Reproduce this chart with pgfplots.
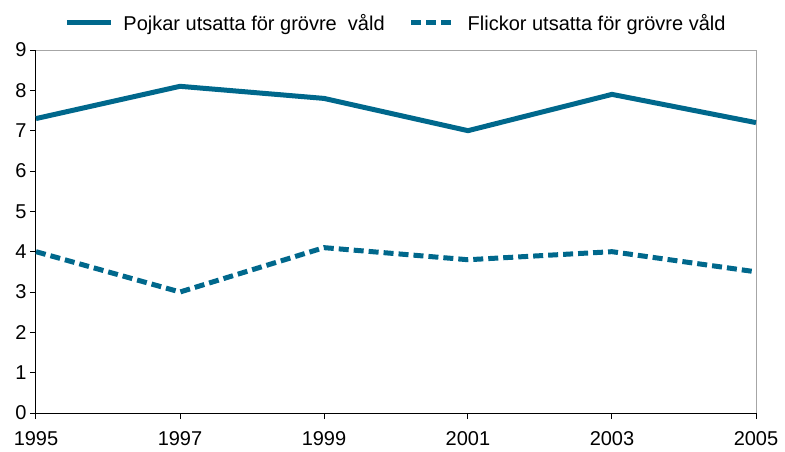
\documentclass[border=0pt]{standalone}
\usepackage{pgfplots}
\pgfplotsset{compat=1.18}
\usepackage{fontspec}
\setmainfont{Liberation Sans}
\definecolor{teal}{RGB}{0,104,140}
\begin{document}
\begin{tikzpicture}
\path[use as bounding box] (-36pt,-38pt) rectangle (749pt,413pt);
\begin{axis}[
  at={(0,0)}, anchor=south west,
  scale only axis, width=720pt, height=363pt,
  xmin=1995, xmax=2005, ymin=0, ymax=9,
  xtick={1995,1997,...,2005}, ytick={0,1,...,9},
  xticklabel style={/pgf/number format/1000 sep={}},
  /pgf/number format/assume math mode=true,
  tick label style={font=\fontsize{20}{24}\selectfont},
  xticklabel style={yshift=-9pt},
  tick align=outside, tick pos=left,
  major tick length=6pt,
  tick style={black, line width=1pt},
  axis line style={draw=none},
  clip=false,
  legend style={draw=none, at={(0.5,1)}, anchor=south, yshift=16pt,
    font=\fontsize{20}{24}\selectfont, column sep=8pt, inner sep=0pt,
    /tikz/every even column/.append style={column sep=22pt}},
  legend columns=2,
  legend image code/.code={\draw[#1] (0pt,0pt) -- (44pt,0pt);},
]
\draw[gray!70, line width=1pt] (axis cs:1995,9) -- (axis cs:2005,9) -- (axis cs:2005,0);
\draw[black, line width=1pt] (axis cs:1995,9) -- (axis cs:1995,0) -- (axis cs:2005,0);
\addplot[teal, line width=5pt, line join=round] coordinates {
 (1995,7.3) (1997,8.1) (1999,7.8) (2001,7.0) (2003,7.9) (2005,7.2)};
\addlegendentry{Pojkar utsatta för grövre\ \ våld}
\addplot[teal, line width=5pt, dash pattern=on 10pt off 5pt] coordinates {
 (1995,4.0) (1997,3.0) (1999,4.1) (2001,3.8) (2003,4.0) (2005,3.5)};
\addlegendentry{Flickor utsatta för grövre våld}
\end{axis}
\end{tikzpicture}
\end{document}
